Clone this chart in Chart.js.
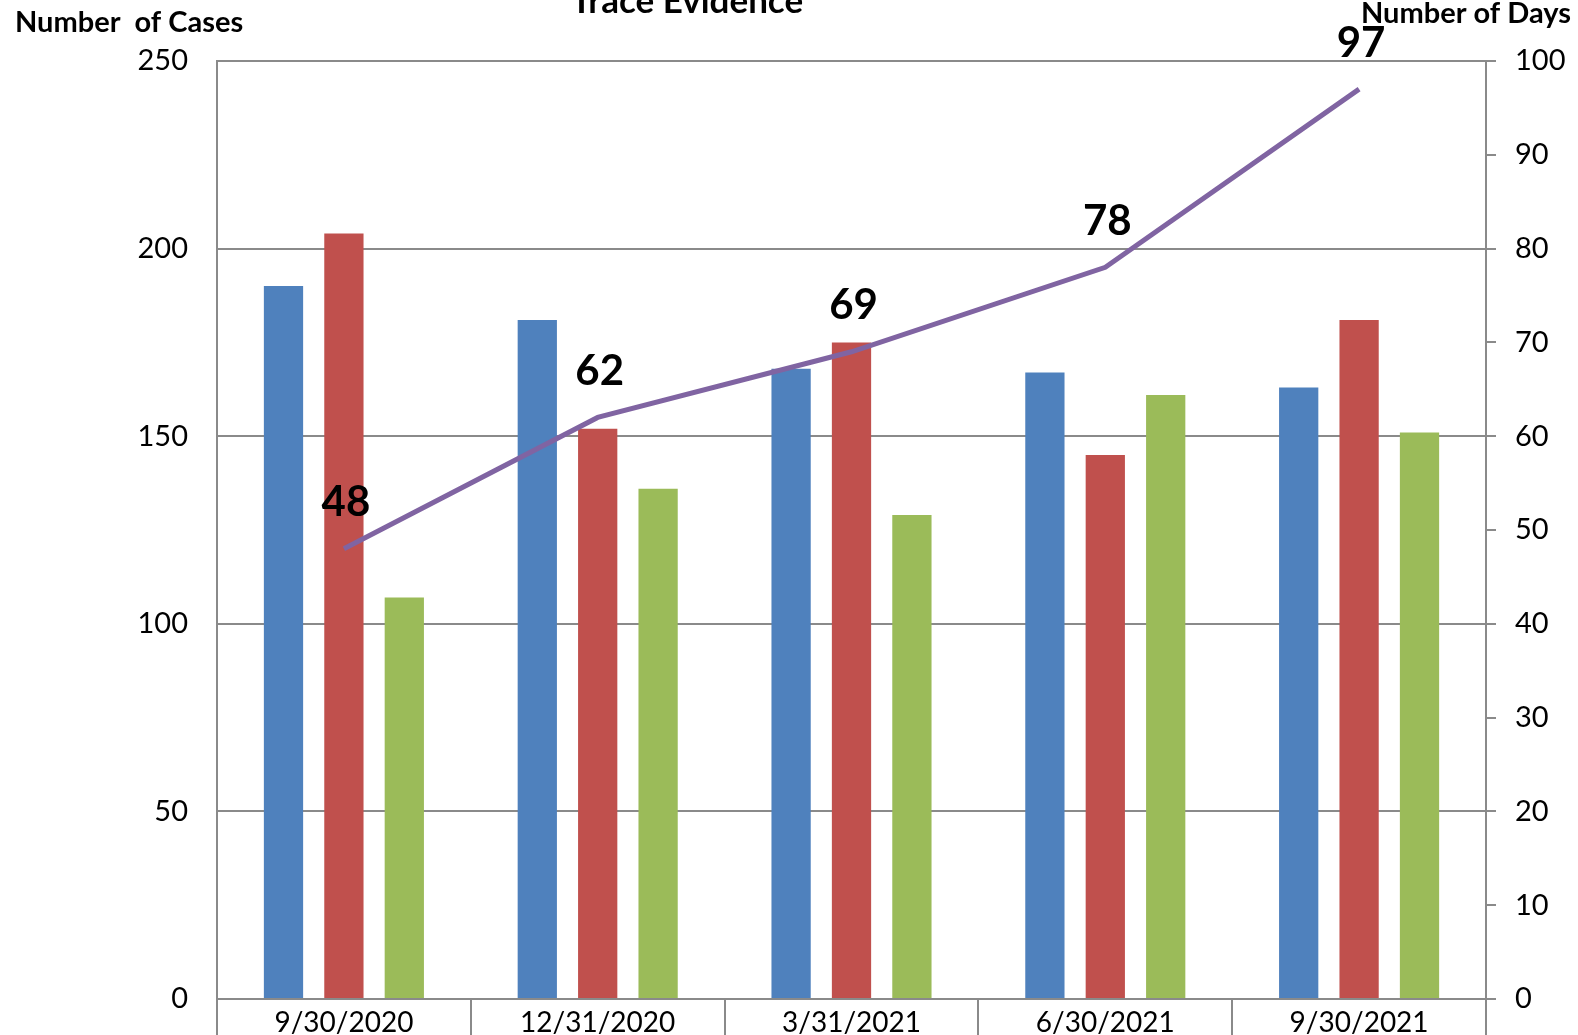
<!DOCTYPE html>
<html lang="en">
<head>
<meta charset="UTF-8">
<title>Trace Evidence</title>
<script src="https://cdn.jsdelivr.net/npm/chart.js"></script>
<style>
  html, body { margin: 0; padding: 0; background: #fff; overflow: hidden; }
  canvas { display: block; }
</style>
</head>
<body>
<canvas id="traceChart" width="1578" height="1035"></canvas>
<script>
  // data
  const quarters = ['9/30/2020', '12/31/2020', '3/31/2021', '6/30/2021', '9/30/2021'];
  const casesA = [190, 181, 168, 167, 163];
  const casesB = [204, 152, 175, 145, 181];
  const casesC = [107, 136, 129, 161, 151];
  const daysToComplete = [48, 62, 69, 78, 97];

  const GRID = '#8a8a8a';
  Chart.defaults.font.family = 'Lato, "Open Sans", sans-serif';
  Chart.defaults.color = '#000';

  // headings drawn straight onto the canvas
  const headings = {
    id: 'headings',
    afterDraw(chart) {
      const ctx = chart.ctx;
      ctx.save();
      ctx.fillStyle = '#000';
      ctx.textBaseline = 'middle';
      ctx.font = 'bold 29px Lato';
      ctx.textAlign = 'left';
      ctx.fillText('Number  of Cases', 15, 23);
      ctx.fillText('Number of Days', 1361, 14);
      ctx.font = 'bold 35px Lato';
      ctx.textAlign = 'center';
      ctx.fillText('Trace Evidence', 687, 2);
      ctx.restore();
    }
  };

  // value labels above the line points
  const lineLabels = {
    id: 'lineLabels',
    afterDatasetsDraw(chart) {
      const ctx = chart.ctx;
      chart.data.datasets.forEach((ds, i) => {
        if (ds.type !== 'line') return;
        const meta = chart.getDatasetMeta(i);
        ctx.save();
        ctx.font = 'bold 42px Lato';
        ctx.fillStyle = '#000';
        ctx.textAlign = 'center';
        ctx.textBaseline = 'middle';
        meta.data.forEach((pt, j) => {
          ctx.fillText(ds.data[j], pt.x + 2, pt.y - 46);
        });
        ctx.restore();
      });
    }
  };

  // keep the tick labels from pushing the plot area around
  const noPad = s => { s.paddingTop = 0; s.paddingBottom = 0; s.paddingLeft = 0; s.paddingRight = 0; };

  new Chart(document.getElementById('traceChart'), {
    type: 'bar',
    data: {
      labels: quarters,
      datasets: [
        {
          type: 'line',
          label: 'Days',
          data: daysToComplete,
          yAxisID: 'y1',
          borderColor: '#8064a2',
          borderWidth: 5,
          pointRadius: 0,
          tension: 0,
          order: 0
        },
        { label: 'Series 1', data: casesA, backgroundColor: '#4f81bd', order: 1 },
        { label: 'Series 2', data: casesB, backgroundColor: '#c0504d', order: 1 },
        { label: 'Series 3', data: casesC, backgroundColor: '#9bbb59', order: 1 }
      ]
    },
    options: {
      responsive: false,
      animation: false,
      devicePixelRatio: 1,
      layout: { autoPadding: false, padding: { top: 61, left: 0, right: 0, bottom: 0 } },
      datasets: {
        bar: { categoryPercentage: 0.714, barPercentage: 0.65 }
      },
      plugins: {
        legend: { display: false },
        tooltip: { enabled: false }
      },
      scales: {
        x: {
          afterFit: s => { noPad(s); s.height = 36; },
          grid: {
            offset: true,
            drawOnChartArea: false,
            color: GRID,
            lineWidth: 2,
            tickLength: 50
          },
          border: { color: GRID, width: 2 },
          ticks: { padding: -43, font: { size: 28 } }
        },
        y: {
          position: 'left',
          min: 0,
          max: 250,
          afterFit: s => { noPad(s); s.width = 217; },
          grid: { color: GRID, lineWidth: 2, drawTicks: false },
          border: { color: GRID, width: 2 },
          ticks: { stepSize: 50, padding: 29, font: { size: 29 } }
        },
        y1: {
          position: 'right',
          min: 0,
          max: 100,
          afterFit: s => { noPad(s); s.width = 92; },
          grid: { drawOnChartArea: false, color: GRID, lineWidth: 2, tickLength: 10 },
          border: { color: GRID, width: 2 },
          ticks: { stepSize: 10, padding: 19, font: { size: 29 } }
        }
      }
    },
    plugins: [headings, lineLabels]
  });
</script>
</body>
</html>
